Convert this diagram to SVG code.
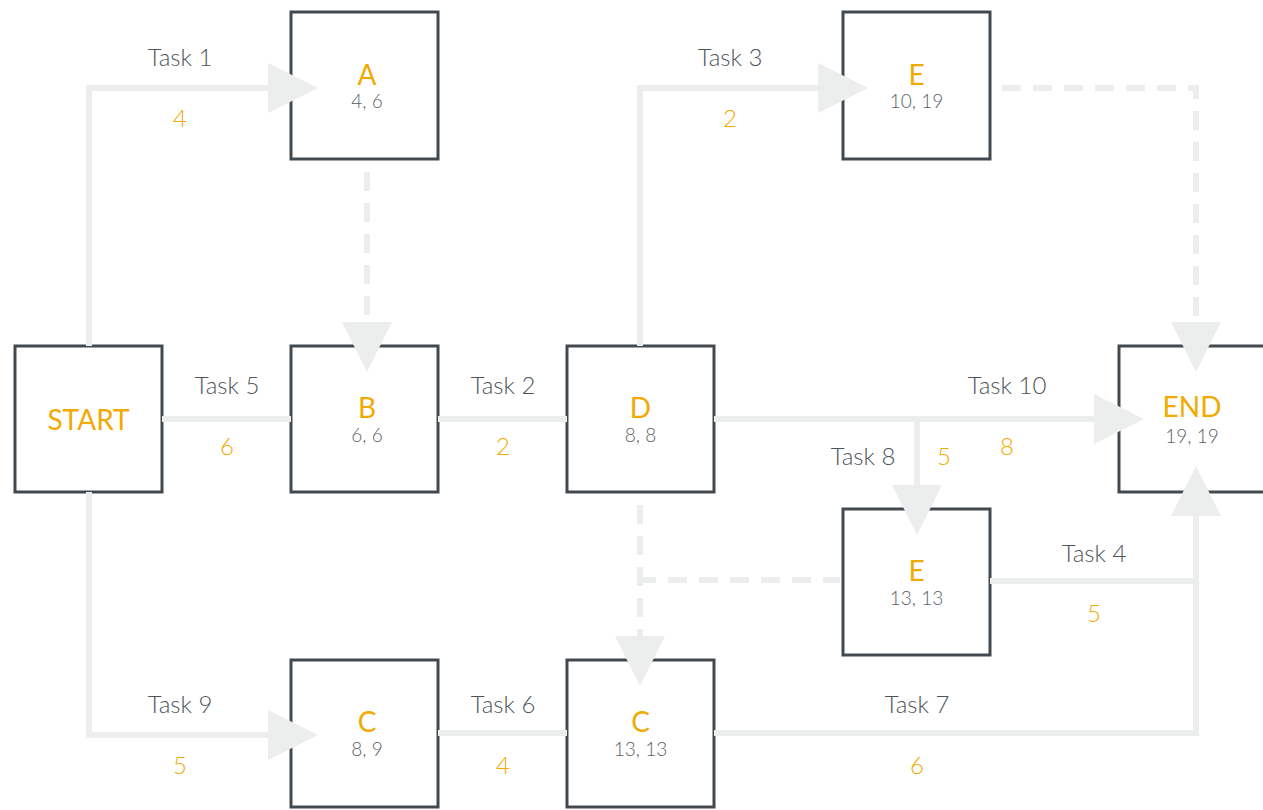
<svg xmlns="http://www.w3.org/2000/svg" width="1263" height="810" viewBox="0 0 1263 810">
<style>
.box{fill:#fff;stroke:#424A50;stroke-width:3}
.lbl{font-family:Lato,"Open Sans","Liberation Sans",sans-serif;fill:#F2A900;text-anchor:middle;font-size:28px}
.num{font-family:Lato,"Open Sans","Liberation Sans",sans-serif;fill:#5A6167;text-anchor:middle;font-size:19px;font-weight:300}
.task{font-family:Lato,"Open Sans","Liberation Sans",sans-serif;fill:#4D555B;text-anchor:middle;font-size:24px;font-weight:300}
.dur{font-family:Lato,"Open Sans","Liberation Sans",sans-serif;fill:#F2A900;text-anchor:middle;font-size:24px;font-weight:300}
.ln{fill:none;stroke:#ECEDED;stroke-width:6}
.dash{stroke-dasharray:19 12}
</style>
<defs>
<marker id="arr" markerUnits="userSpaceOnUse" markerWidth="50" markerHeight="50" viewBox="0 0 50 50" refX="0" refY="25" orient="auto" overflow="visible">
<path d="M0,0 L50,25 L0,50 Z" fill="#ECEDED"/>
</marker>
</defs>
<g id="nodes">
<g id="start"><rect class="box" x="15" y="346" width="147" height="146"/><text class="lbl" x="88.5" y="430" font-size="30">START</text></g>
<g id="nodeA"><rect class="box" x="291" y="12" width="147" height="147"/><text class="lbl" x="367" y="85">A</text><text class="num" x="367" y="108">4, 6</text></g>
<g id="nodeB"><rect class="box" x="291" y="346" width="147" height="146"/><text class="lbl" x="367" y="418">B</text><text class="num" x="367" y="442">6, 6</text></g>
<g id="nodeC1"><rect class="box" x="291" y="660" width="147" height="147"/><text class="lbl" x="367" y="732">C</text><text class="num" x="367" y="756">8, 9</text></g>
<g id="nodeD"><rect class="box" x="567" y="346" width="147" height="146"/><text class="lbl" x="640.5" y="418">D</text><text class="num" x="640.5" y="442">8, 8</text></g>
<g id="nodeC2"><rect class="box" x="567" y="660" width="147" height="147"/><text class="lbl" x="640.5" y="732">C</text><text class="num" x="640.5" y="756">13, 13</text></g>
<g id="nodeE1"><rect class="box" x="843" y="12" width="147" height="147"/><text class="lbl" x="916.5" y="85">E</text><text class="num" x="916.5" y="108">10, 19</text></g>
<g id="nodeE2"><rect class="box" x="843" y="509" width="147" height="146"/><text class="lbl" x="916.5" y="581">E</text><text class="num" x="916.5" y="605">13, 13</text></g>
<g id="end"><rect class="box" x="1119" y="346" width="150" height="146"/><text class="lbl" x="1192" y="417">END</text><text class="num" x="1192" y="443">19, 19</text></g>
</g>
<g id="connectors">
<path class="ln" d="M89,346 V88 H268" marker-end="url(#arr)"/>
<path class="ln" d="M640,346 V88 H818" marker-end="url(#arr)"/>
<path class="ln" d="M89,492 V735 H268" marker-end="url(#arr)"/>
<path class="ln" d="M162,419 H291"/>
<path class="ln" d="M438,419 H567"/>
<path class="ln" d="M714,419 H1094" marker-end="url(#arr)"/>
<path class="ln" d="M917,419 V485" marker-end="url(#arr)"/>
<path class="ln" d="M438,733 H567"/>
<path class="ln" d="M714,733 H1196 V516" marker-end="url(#arr)"/>
<path class="ln" d="M990,581 H1196"/>
<path class="ln dash" d="M367,172 V322" marker-end="url(#arr)"/>
<path class="ln dash" d="M1002,88 H1196 V322" marker-end="url(#arr)"/>
<path class="ln dash" d="M640,505 V636" marker-end="url(#arr)"/>
<path class="ln dash" d="M637,580 H840"/>
</g>
<g id="labels">
<text class="task" x="180" y="66">Task 1</text><text class="dur" x="180" y="127">4</text>
<text class="task" x="730" y="66">Task 3</text><text class="dur" x="730" y="127">2</text>
<text class="task" x="227" y="394">Task 5</text><text class="dur" x="227" y="455">6</text>
<text class="task" x="503" y="394">Task 2</text><text class="dur" x="503" y="455">2</text>
<text class="task" x="1007" y="394">Task 10</text><text class="dur" x="1007" y="455">8</text>
<text class="task" x="863" y="465">Task 8</text><text class="dur" x="944" y="465">5</text>
<text class="task" x="1094" y="562">Task 4</text><text class="dur" x="1094" y="622">5</text>
<text class="task" x="180" y="713">Task 9</text><text class="dur" x="180" y="774">5</text>
<text class="task" x="503" y="713">Task 6</text><text class="dur" x="503" y="774">4</text>
<text class="task" x="917" y="713">Task 7</text><text class="dur" x="917" y="774">6</text>
</g>
</svg>
